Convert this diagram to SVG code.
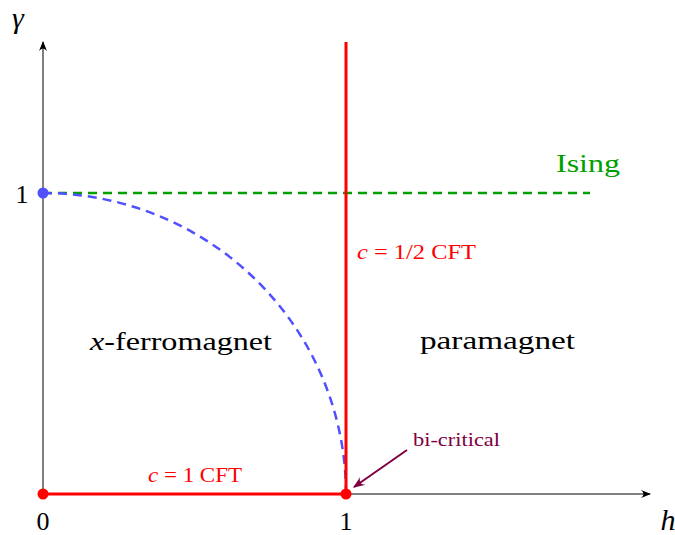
<svg xmlns="http://www.w3.org/2000/svg" width="675" height="535" viewBox="0 0 675 535">
<style>
text{font-family:"Liberation Serif","DejaVu Serif",serif;}
.ax{stroke:#000;stroke-width:1;fill:none}
.red{stroke:#ff0000;stroke-width:3;fill:none}
.lbl{font-size:26px;fill:#000}
.rl{font-size:20px;fill:#ff0000}
</style>
<defs>
<marker id="ah" viewBox="0 0 10 10" refX="9" refY="5" markerWidth="10" markerHeight="10" markerUnits="userSpaceOnUse" orient="auto">
<path d="M0,1 Q5,5 0,9 L10,5 Z" fill="#000"/>
</marker>
<marker id="ahp" viewBox="0 0 10 10" refX="9" refY="5" markerWidth="12" markerHeight="12" markerUnits="userSpaceOnUse" orient="auto">
<path d="M0,1 Q5,5 0,9 L10,5 Z" fill="#800040"/>
</marker>
</defs>
<g id="connectors">
<line class="ax" x1="43" y1="494" x2="43" y2="42" marker-end="url(#ah)"/>
<line class="ax" x1="43" y1="494" x2="650" y2="494" marker-end="url(#ah)"/>
<line x1="43" y1="193" x2="590" y2="193" stroke="#00a000" stroke-width="2.5" stroke-dasharray="9,6"/>
<path d="M43,193 A303,301 0 0 1 346,494" fill="none" stroke="#5050ff" stroke-width="2.5" stroke-dasharray="9,6"/>
<line class="red" x1="346" y1="42" x2="346" y2="494"/>
<line class="red" x1="43" y1="494" x2="346" y2="494"/>
<line x1="407" y1="450" x2="354" y2="487" stroke="#800040" stroke-width="2" marker-end="url(#ahp)"/>
</g>
<g id="points">
<circle cx="43" cy="193" r="5.5" fill="#5050ff"/>
<circle cx="43" cy="494" r="5.5" fill="#ff0000"/>
<circle cx="346" cy="494" r="5.5" fill="#ff0000"/>
</g>
<g id="labels">
<text x="18" y="28" text-anchor="middle" font-style="italic" font-size="30">γ</text>
<text class="lbl" x="22" y="203" text-anchor="middle">1</text>
<text class="lbl" x="43" y="530" text-anchor="middle">0</text>
<text class="lbl" x="346" y="530" text-anchor="middle">1</text>
<text x="668" y="530" text-anchor="middle" font-style="italic" font-size="30">h</text>
<text class="lbl" x="90" y="350" textLength="182" lengthAdjust="spacingAndGlyphs"><tspan font-style="italic">x</tspan>-ferromagnet</text>
<text class="lbl" x="420" y="349" textLength="155" lengthAdjust="spacingAndGlyphs">paramagnet</text>
<text x="556" y="172" font-size="26" fill="#00a000" textLength="64" lengthAdjust="spacingAndGlyphs">Ising</text>
<text class="rl" x="357" y="259" textLength="119" lengthAdjust="spacingAndGlyphs"><tspan font-style="italic">c</tspan> = 1/2 CFT</text>
<text class="rl" x="148" y="482" textLength="94" lengthAdjust="spacingAndGlyphs"><tspan font-style="italic">c</tspan> = 1 CFT</text>
<text x="413" y="446" font-size="19" fill="#800040" textLength="87" lengthAdjust="spacingAndGlyphs">bi-critical</text>
</g>
</svg>
